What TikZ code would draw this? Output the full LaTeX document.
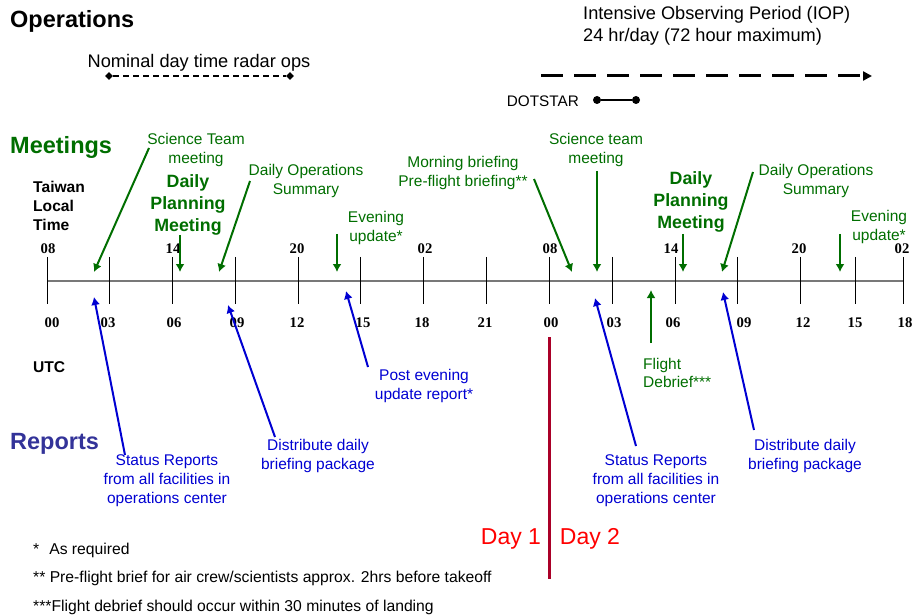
\documentclass[tikz,border=0pt]{standalone}
\usepackage{fontspec}
\setmainfont{Liberation Sans}
\newfontfamily\tickfont{Liberation Serif}
\usetikzlibrary{arrows.meta,shapes.geometric}
\definecolor{mgreen}{RGB}{0,110,0}
\definecolor{rblue}{RGB}{0,0,210}
\definecolor{repblue}{RGB}{51,51,153}
\definecolor{dkred}{RGB}{170,0,40}
\definecolor{axgray}{RGB}{120,120,120}
\definecolor{dayred}{RGB}{255,0,0}
\begin{document}
\begin{tikzpicture}[x=1pt,y=-1pt,
  head/.style={font=\fontsize{23.5}{28}\selectfont\bfseries, anchor=west, inner sep=0},
  big/.style={font=\fontsize{18.2}{22}\selectfont, inner sep=0},
  labbold/.style={font=\fontsize{15.6}{19}\selectfont\bfseries, inner sep=0},
  glab/.style={text=mgreen, font=\fontsize{15.5}{18.8}\selectfont, align=center, inner sep=0},
  gbold/.style={text=mgreen, font=\fontsize{17.8}{21.7}\selectfont\bfseries, align=center, inner sep=0},
  blab/.style={text=rblue, font=\fontsize{15.5}{19}\selectfont, align=center, inner sep=0},
  garrow/.style={draw=mgreen, line width=2, -{Latex[length=8pt,width=9pt]}},
  barrow/.style={draw=rblue, line width=2, -{Latex[length=8pt,width=9pt]}},
  ticklab/.style={font=\tickfont\fontsize{14.7}{17}\selectfont\bfseries, inner sep=0},
  foot/.style={font=\fontsize{15.7}{18}\selectfont, anchor=west, inner sep=0},
  dmd/.style={diamond, fill=black, inner sep=0, minimum size=8pt},
  dotc/.style={circle, fill=black, inner sep=0, minimum size=8pt},
  dayl/.style={text=dayred, font=\fontsize{23}{27}\selectfont, inner sep=0}
]
\useasboundingbox (0,0) rectangle (914,615);

% ---------- Operations ----------
\node[head] (ops) at (10,21) {Operations};
\node[big] (nominal) at (199,63) {Nominal day time radar ops};
\node[dmd] (nomL) at (109,76) {};
\node[dmd] (nomR) at (290,76) {};
\draw[line width=1.2, dash pattern=on 6pt off 4pt] (nomL) -- (nomR);

\node[big, anchor=west, align=left] (iop) at (583,26) {Intensive Observing Period (IOP)\\24 hr/day (72 hour maximum)};
\coordinate (iopA) at (541,76);
\coordinate (iopB) at (872,76);
\draw[line width=3, dash pattern=on 22pt off 11pt, -{Triangle[length=9pt,width=9pt]}] (iopA) -- (iopB);

\node[font=\fontsize{15.3}{18}\selectfont, inner sep=0, anchor=east] (dotstar) at (579,101) {DOTSTAR};
\node[dotc] (ds1) at (597,100) {};
\node[dotc] (ds2) at (636,100) {};
\draw[line width=2.5] (ds1) -- (ds2);

% ---------- Meetings ----------
\node[head, text=mgreen] (meet) at (10,147) {Meetings};
\node[labbold, anchor=west, align=left] (tlt) at (33,206) {Taiwan\\Local\\Time};

% ---------- Axis ----------
\coordinate (axL) at (47,281);
\coordinate (axR) at (903,281);
\draw[axgray, line width=1.6] (axL) -- (axR);
\foreach \x in {47,109.5,172.3,235.2,298,360.8,423.7,486.6,549.3,612.3,675.3,737.8,800.7,855.3,903}
  \draw[line width=0.9] (\x,257) -- (\x,304);

\foreach \x/\t in {48/08,173/14,297/20,425/02,550/08,671/14,799/20,902/02}
  \node[ticklab] (lt\x) at (\x,249) {\t};
\foreach \x/\t in {52/00,108/03,174/06,237/09,297/12,363/15,422/18,485/21,551/00,614/03,673/06,744/09,803/12,855/15,905/18}
  \node[ticklab] (ut\x) at (\x,323) {\t};

\node[labbold, anchor=west] (utc) at (33,367) {UTC};
\node[head, text=repblue] (rep) at (10,444) {Reports};

% ---------- Green meeting labels ----------
\node[glab] (g1) at (196,150) {Science Team\\meeting};
\node[gbold] (g2) at (188,205) {Daily\\Planning\\Meeting};
\node[glab] (g3) at (306,181) {Daily Operations\\Summary};
\node[glab] (g4) at (376,228) {Evening\\update*};
\node[glab] (g5) at (463,173) {Morning briefing\\Pre-flight briefing**};
\node[glab] (g6) at (596,150) {Science team\\meeting};
\node[gbold] (g7) at (691,202) {Daily\\Planning\\Meeting};
\node[glab] (g8) at (816,181) {Daily Operations\\Summary};
\node[glab] (g9) at (879,227) {Evening\\update*};
\node[glab, align=left, anchor=west] (g10) at (643,373) {Flight\\Debrief***};

\coordinate (g1a) at (149,148);  \coordinate (g1b) at (94,272);
\coordinate (g2a) at (180,235);  \coordinate (g2b) at (180,272);
\coordinate (g3a) at (250,181);  \coordinate (g3b) at (219,272);
\coordinate (g4a) at (337,234);  \coordinate (g4b) at (337,272);
\coordinate (g5a) at (534,179);  \coordinate (g5b) at (572,272);
\coordinate (g6a) at (597,171);  \coordinate (g6b) at (597,272);
\coordinate (g7a) at (683,234);  \coordinate (g7b) at (683,272);
\coordinate (g8a) at (753,172);  \coordinate (g8b) at (722,272);
\coordinate (g9a) at (840,234);  \coordinate (g9b) at (840,272);
\coordinate (g10a) at (651,343); \coordinate (g10b) at (651,290);
\foreach \i in {1,...,10} \draw[garrow] (g\i a) -- (g\i b);

% ---------- Blue report labels ----------
\node[blab] (b1) at (167,481) {Status Reports\\from all facilities in\\operations center};
\node[blab] (b2) at (318,456) {Distribute daily\\briefing package};
\node[blab] (b3) at (424,386) {Post evening\\update report*};
\node[blab] (b4) at (656,481) {Status Reports\\from all facilities in\\operations center};
\node[blab] (b5) at (805,456) {Distribute daily\\briefing package};

\coordinate (b1a) at (125,455); \coordinate (b1b) at (94,297);
\coordinate (b2a) at (275,437); \coordinate (b2b) at (228,305);
\coordinate (b3a) at (368,367); \coordinate (b3b) at (346,291);
\coordinate (b4a) at (636,446); \coordinate (b4b) at (595,298);
\coordinate (b5a) at (754,430); \coordinate (b5b) at (723,292);
\foreach \i in {1,...,5} \draw[barrow] (b\i a) -- (b\i b);

% ---------- Day divider ----------
\coordinate (redT) at (549,337);
\coordinate (redB) at (549,579);
\draw[dkred, line width=3] (redT) -- (redB);
\node[dayl] (day1) at (511,539) {Day 1};
\node[dayl] (day2) at (590,539) {Day 2};

% ---------- Footnotes ----------
\node[foot] (f1) at (33,550) {*\hspace{10pt}As required};
\node[foot] (f2) at (33,578) {** Pre-flight brief for air crew/scientists approx. 2hrs before takeoff};
\node[foot] (f3) at (33,607) {***Flight debrief should occur within 30 minutes of landing};
\end{tikzpicture}
\end{document}
